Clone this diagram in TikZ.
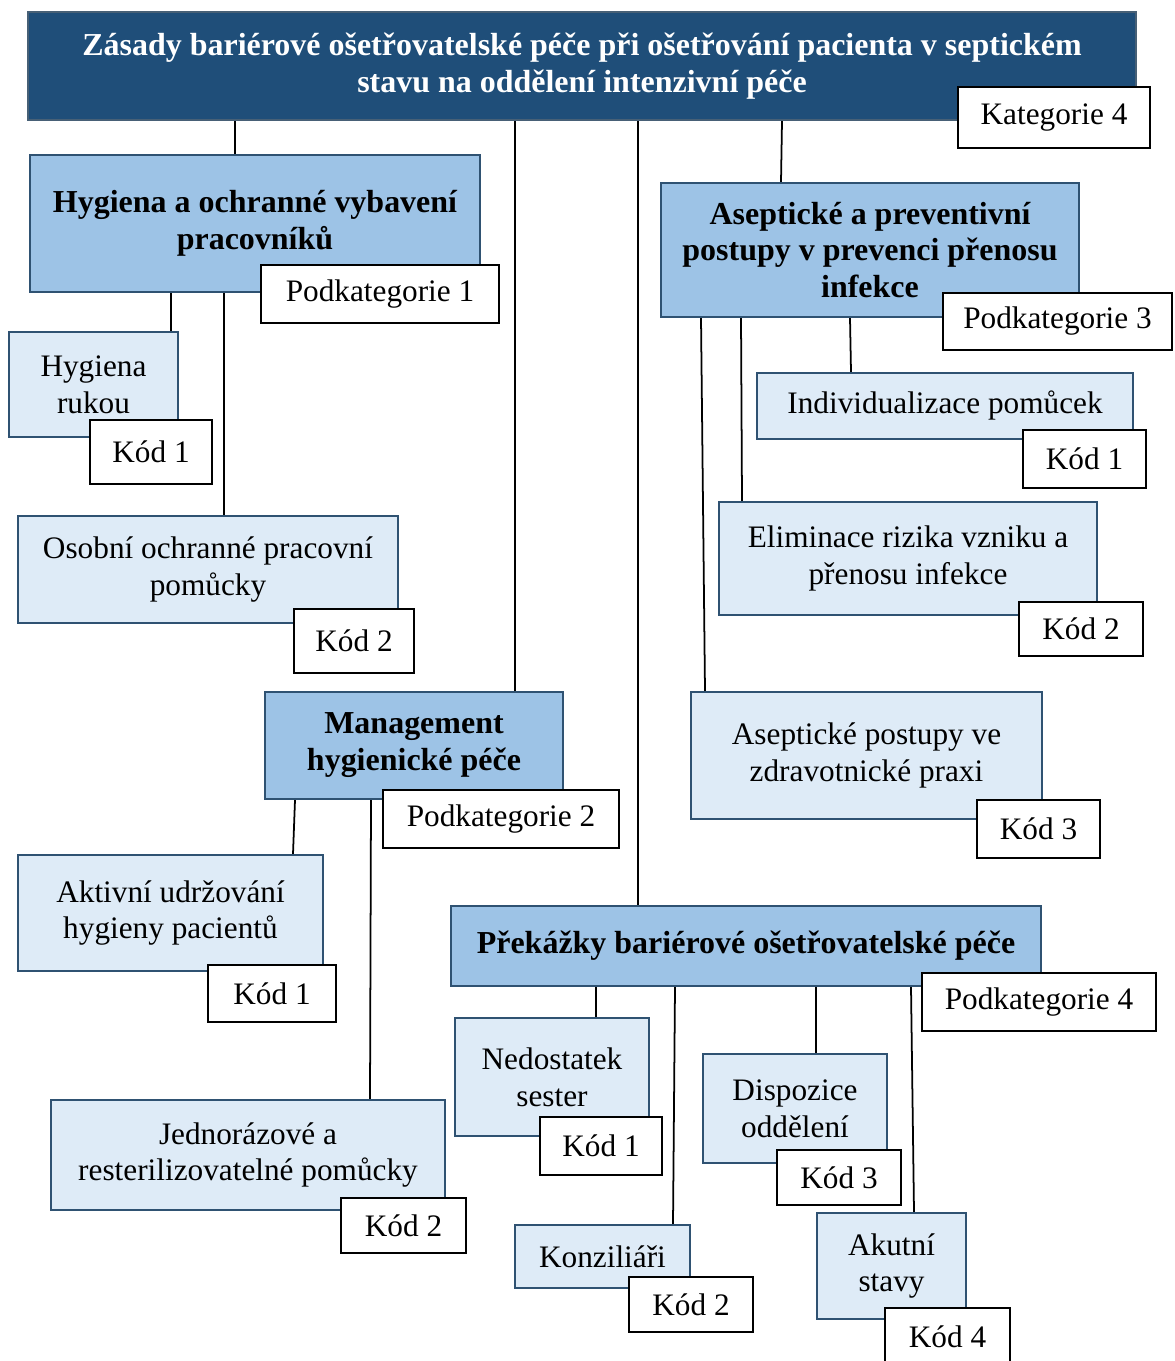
\documentclass[tikz,border=0pt]{standalone}
\usepackage{fontspec}
\setmainfont{Liberation Serif}
\definecolor{navy}{RGB}{31,78,121}
\definecolor{midblue}{RGB}{157,195,230}
\definecolor{paleblue}{RGB}{222,235,247}
\definecolor{edgeblue}{RGB}{47,82,114}
\tikzset{
  topbox/.style={draw=edgeblue!70!gray,line width=1.2pt,fill=navy,text=white,inner sep=0pt,align=center,font=\fontsize{18.2}{21}\selectfont\bfseries},
  subbox/.style={draw=edgeblue,line width=1.2pt,fill=midblue,inner sep=0pt,align=center,font=\fontsize{18.2}{21}\selectfont\bfseries},
  leafbox/.style={draw=edgeblue,line width=1.2pt,fill=paleblue,inner sep=0pt,align=center,font=\fontsize{17.8}{21}\selectfont},
  tagbox/.style={draw=black,line width=1.2pt,fill=white,inner sep=0pt,align=center,font=\fontsize{17.8}{21}\selectfont},
  conn/.style={line width=1pt,black}
}
\begin{document}
\begin{tikzpicture}[x=0.02cm,y=-0.02cm]
\useasboundingbox (0,0) rectangle (1174,1361);
% main category
\node[topbox,minimum width=22.16cm,minimum height=2.16cm] (title) at (582,66) {Zásady bariérové ošetřovatelské péče při ošetřování pacienta v septickém\\stavu na oddělení intenzivní péče};
\node[tagbox,minimum width=3.84cm,minimum height=1.22cm] (kat) at (1054,117.5) {Kategorie 4};
% subcategories
\node[subbox,minimum width=9cm,minimum height=2.74cm] (hyg) at (255,223.5) {Hygiena a ochranné vybavení\\pracovníků};
\node[tagbox,minimum width=4.76cm,minimum height=1.16cm] (pod1) at (380,294) {Podkategorie 1};
\node[subbox,minimum width=8.36cm,minimum height=2.68cm] (asep) at (870,250) {Aseptické a preventivní\\postupy v prevenci přenosu\\infekce};
\node[tagbox,minimum width=4.58cm,minimum height=1.14cm] (pod3) at (1057.5,321.5) {Podkategorie 3};
\node[subbox,minimum width=5.96cm,minimum height=2.14cm] (mgmt) at (414,745.5) {Management\\hygienické péče};
\node[tagbox,minimum width=4.72cm,minimum height=1.16cm] (pod2) at (501,819) {Podkategorie 2};
\node[subbox,minimum width=11.8cm,minimum height=1.6cm] (prek) at (746,946) {Překážky bariérové ošetřovatelské péče};
\node[tagbox,minimum width=4.68cm,minimum height=1.16cm] (pod4) at (1039,1002) {Podkategorie 4};
% codes of subcategory 1
\node[leafbox,minimum width=3.38cm,minimum height=2.1cm] (rukou) at (93.5,384.5) {Hygiena\\rukou};
\node[tagbox,minimum width=2.44cm,minimum height=1.28cm] (k11) at (151,452) {Kód 1};
\node[leafbox,minimum width=7.6cm,minimum height=2.14cm] (oopp) at (208,569.5) {Osobní ochranné pracovní\\pomůcky};
\node[tagbox,minimum width=2.4cm,minimum height=1.28cm] (k12) at (354,641) {Kód 2};
% codes of subcategory 2
\node[leafbox,minimum width=6.1cm,minimum height=2.32cm] (aktiv) at (170.5,913) {Aktivní udržování\\hygieny pacientů};
\node[tagbox,minimum width=2.56cm,minimum height=1.14cm] (k21) at (272,993.5) {Kód 1};
\node[leafbox,minimum width=7.88cm,minimum height=2.2cm] (jedn) at (248,1155) {Jednorázové a\\resterilizovatelné pomůcky};
\node[tagbox,minimum width=2.5cm,minimum height=1.1cm] (k22) at (403.5,1225.5) {Kód 2};
% codes of subcategory 3
\node[leafbox,minimum width=7.52cm,minimum height=1.32cm] (indiv) at (945,406) {Individualizace pomůcek};
\node[tagbox,minimum width=2.46cm,minimum height=1.16cm] (k31) at (1084.5,459) {Kód 1};
\node[leafbox,minimum width=7.56cm,minimum height=2.26cm] (elim) at (908,558.5) {Eliminace rizika vzniku a\\přenosu infekce};
\node[tagbox,minimum width=2.48cm,minimum height=1.08cm] (k32) at (1081,629) {Kód 2};
\node[leafbox,minimum width=7.02cm,minimum height=2.54cm] (praxe) at (866.5,755.5) {Aseptické postupy ve\\zdravotnické praxi};
\node[tagbox,minimum width=2.46cm,minimum height=1.16cm] (k33) at (1038.5,829) {Kód 3};
% codes of subcategory 4
\node[leafbox,minimum width=3.88cm,minimum height=2.36cm] (sester) at (552,1077) {Nedostatek\\sester};
\node[tagbox,minimum width=2.44cm,minimum height=1.16cm] (k41) at (601,1146) {Kód 1};
\node[leafbox,minimum width=3.5cm,minimum height=1.26cm] (konz) at (602.5,1256.5) {Konziliáři};
\node[tagbox,minimum width=2.48cm,minimum height=1.1cm] (k42) at (691,1304.5) {Kód 2};
\node[leafbox,minimum width=3.68cm,minimum height=2.18cm] (disp) at (795,1108.5) {Dispozice\\oddělení};
\node[tagbox,minimum width=2.48cm,minimum height=1.1cm] (k43) at (839,1177.5) {Kód 3};
\node[leafbox,minimum width=2.98cm,minimum height=2.12cm] (akut) at (891.5,1266) {Akutní\\stavy};
\node[tagbox,minimum width=2.5cm,minimum height=1.16cm] (k44) at (947.5,1337) {Kód 4};
% connectors
\draw[conn] (title.south -| 235,0) -- (hyg.north -| 235,0);
\draw[conn] (title.south -| 515,0) -- (mgmt.north -| 515,0);
\draw[conn] (title.south -| 638,0) -- (prek.north -| 638,0);
\draw[conn] (title.south -| 782,0) -- (asep.north -| 781,0);
\draw[conn] (hyg.south -| 171,0) -- (rukou.north -| 171,0);
\draw[conn] (hyg.south -| 224,0) -- (oopp.north -| 224,0);
\draw[conn] (mgmt.south -| 295,0) -- (aktiv.north -| 293,0);
\draw[conn] (mgmt.south -| 371,0) -- (jedn.north -| 370,0);
\draw[conn] (asep.south -| 850,0) -- (indiv.north -| 851,0);
\draw[conn] (asep.south -| 741,0) -- (elim.north -| 742,0);
\draw[conn] (asep.south -| 701,0) -- (praxe.north -| 705,0);
\draw[conn] (prek.south -| 596,0) -- (sester.north -| 596,0);
\draw[conn] (prek.south -| 675,0) -- (konz.north -| 673,0);
\draw[conn] (prek.south -| 816,0) -- (disp.north -| 816,0);
\draw[conn] (prek.south -| 911,0) -- (akut.north -| 914,0);
\end{tikzpicture}
\end{document}
